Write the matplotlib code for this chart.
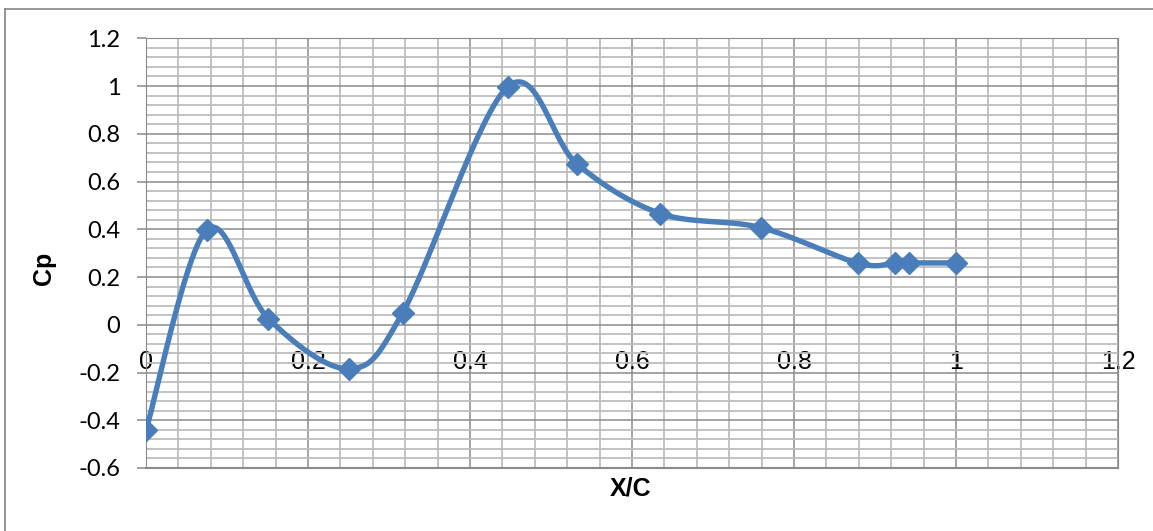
import matplotlib
matplotlib.use("Agg")
import matplotlib.pyplot as plt
import numpy as np
from matplotlib.lines import Line2D
from matplotlib.ticker import FixedLocator, MultipleLocator

# values
x_over_c = [0.0, 0.075, 0.151, 0.25, 0.317, 0.447, 0.532, 0.635, 0.759, 0.879, 0.925, 0.942, 1.0]
cp = [-0.442, 0.398, 0.026, -0.184, 0.051, 0.998, 0.674, 0.466, 0.407, 0.258, 0.259, 0.259, 0.259]

x_ticks = [0, 0.2, 0.4, 0.6, 0.8, 1.0, 1.2]
x_tick_labels = ["0", "0.2", "0.4", "0.6", "0.8", "1", "1.2"]
y_ticks = [-0.6, -0.4, -0.2, 0, 0.2, 0.4, 0.6, 0.8, 1.0, 1.2]
y_tick_labels = ["-0.6", "-0.4", "-0.2", "0", "0.2", "0.4", "0.6", "0.8", "1", "1.2"]

line_color = "#4a7ebb"
major_grid = "#8a8a8a"
minor_grid = "#bdbdbd"
narrow = ["Liberation Sans Narrow", "Liberation Sans", "DejaVu Sans"]


def smooth_curve(xs, ys, steps=40):
    # spreadsheet-style smoothed line: cubic bezier through every point
    pts = np.column_stack([xs, ys])
    padded = np.vstack([pts[0], pts, pts[-1]])
    t = np.linspace(0, 1, steps)[:, None]
    out = []
    for i in range(1, len(padded) - 2):
        p0, p1, p2, p3 = padded[i - 1:i + 3]
        c1 = p1 + (p2 - p0) / 6
        c2 = p2 - (p3 - p1) / 6
        seg = (1 - t) ** 3 * p1 + 3 * (1 - t) ** 2 * t * c1 + 3 * (1 - t) * t ** 2 * c2 + t ** 3 * p2
        out.append(seg if i == 1 else seg[1:])
    return np.vstack(out)


W, H = 1153, 531
fig = plt.figure(figsize=(W / 100, H / 100), dpi=100)
left, right, top, bottom = 146, 1118, 38.3, 468
ax = fig.add_axes([left / W, 1 - bottom / H, (right - left) / W, (bottom - top) / H])

# x axis crosses at y = 0, labels sit below that line
ax.spines["bottom"].set_position(("data", 0))
ax.spines["bottom"].set_visible(False)
ax.spines["top"].set_color(major_grid)
ax.spines["right"].set_color(major_grid)
ax.spines["left"].set_color(major_grid)

curve = smooth_curve(x_over_c, cp)
ax.plot(curve[:, 0], curve[:, 1], color=line_color, lw=3.9, zorder=3, solid_capstyle="round")
ax.plot(x_over_c, cp, linestyle="none", marker="D", markersize=11, color=line_color, zorder=4)

ax.set_xlim(0, 1.2)
ax.set_ylim(-0.6, 1.2)
ax.xaxis.set_major_locator(FixedLocator(x_ticks))
ax.yaxis.set_major_locator(FixedLocator(y_ticks))
ax.xaxis.set_minor_locator(MultipleLocator(0.04))
ax.yaxis.set_minor_locator(MultipleLocator(0.04))
ax.tick_params(axis="x", which="both", length=0, pad=18)
ax.tick_params(axis="y", which="major", length=6.5, width=1.1, color=major_grid, pad=12)
ax.tick_params(axis="y", which="minor", length=0)
ax.set_xticklabels(x_tick_labels, family=narrow, fontsize=18)
ax.set_yticklabels(y_tick_labels, family=["Lato", "DejaVu Sans"], fontsize=17)

ax.grid(which="minor", color=minor_grid, lw=1.3, zorder=0)
ax.grid(which="major", color=major_grid, lw=1.1, zorder=1)
ax.set_axisbelow(True)
ax.axhline(-0.6, color=major_grid, lw=1.5, zorder=2, clip_on=False)

fig.text(631 / W, 1 - 489 / H, "X/C", ha="center", va="center", fontsize=18,
         fontweight="bold", family=narrow)
fig.text(44 / W, 1 - 268 / H, "Cp", ha="center", va="center", rotation=90, fontsize=18,
         fontweight="bold", family=narrow)

# outer chart border (only the top and left edges fall inside the image)
fig.add_artist(Line2D([5 / W, 5 / W], [0, 1 - 9 / H], color="#8c8c8c", lw=1.3))
fig.add_artist(Line2D([5 / W, 1], [1 - 9 / H, 1 - 9 / H], color="#8c8c8c", lw=1.3))

fig.savefig("out.png", dpi=100)
